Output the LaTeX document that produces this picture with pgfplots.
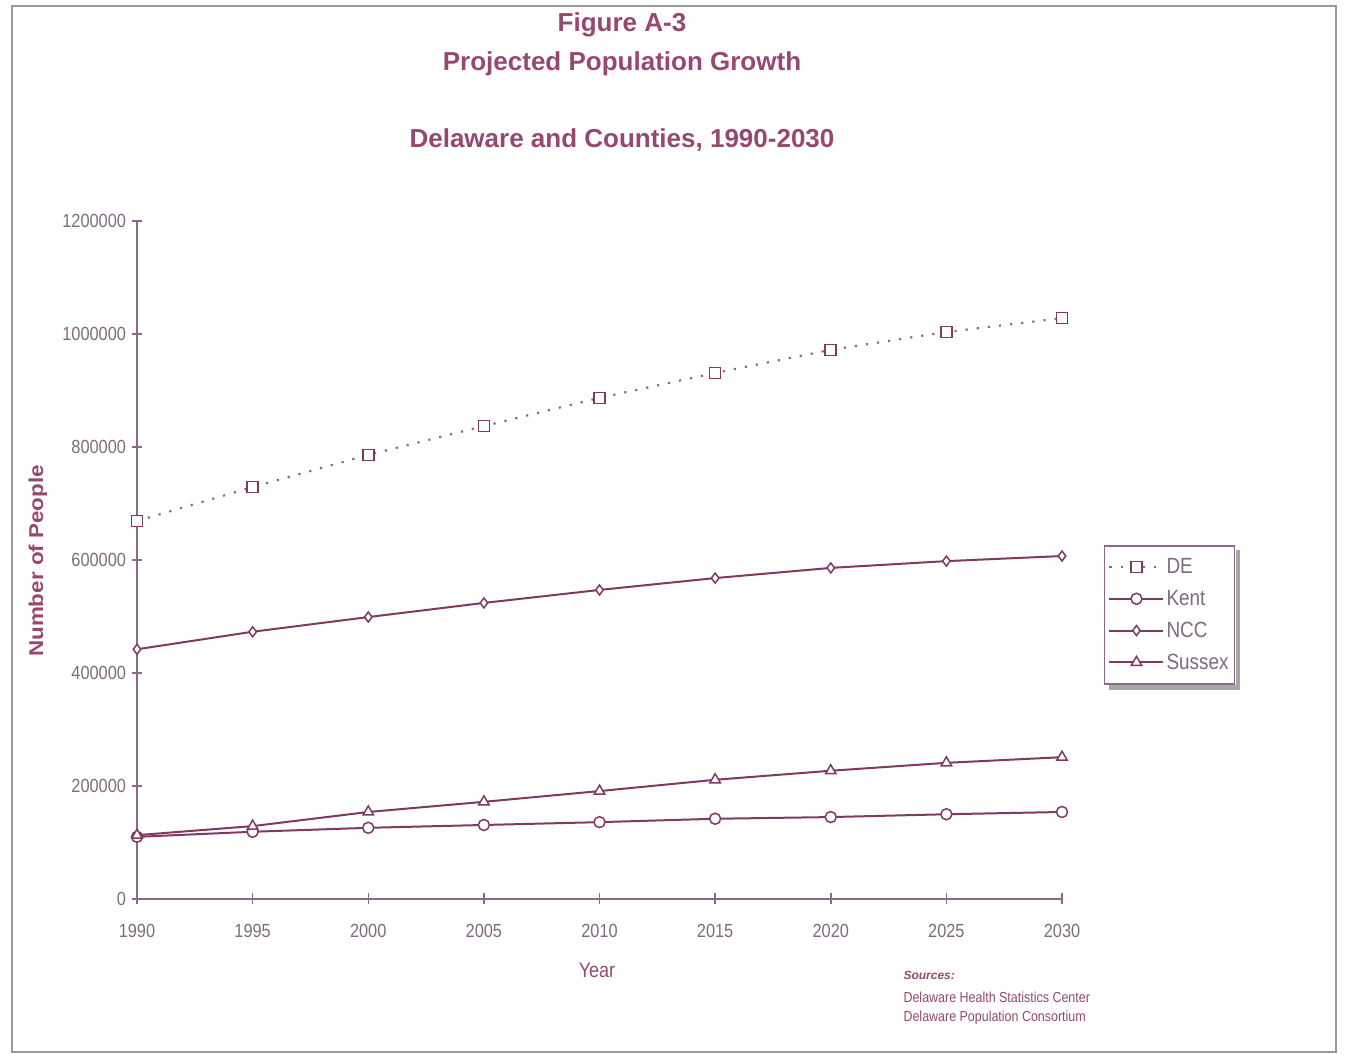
\documentclass[border=0pt]{standalone}
\usepackage{fontspec}
\setmainfont{Liberation Sans}
\newfontfamily\narrow[FakeStretch=0.86]{Liberation Sans}
\newfontfamily\wide[FakeStretch=1.12]{Liberation Sans}
\usepackage{pgfplots}
\pgfplotsset{compat=1.18}

\definecolor{titlec}{RGB}{150,72,112}
\definecolor{linec}{RGB}{128,58,98}
\definecolor{tickc}{RGB}{125,108,125}
\definecolor{axisc}{RGB}{140,105,135}
\definecolor{dotc}{RGB}{130,110,125}

\begin{document}
\begin{tikzpicture}[x=1pt,y=1pt]
\useasboundingbox (0,0) rectangle (1346,1054);
\draw[gray!80, line width=2.5pt] (12,2) rectangle (1336,1048);

\begin{axis}[
  at={(137pt,155pt)}, anchor=south west,
  scale only axis, width=925pt, height=678pt,
  xmin=1990, xmax=2030, ymin=0, ymax=1200000,
  scaled y ticks=false, scaled x ticks=false,
  axis x line=bottom, axis y line=left,
  axis line style={-, axisc, line width=1.6pt},
  tick align=center, major tick length=11pt,
  every tick/.style={axisc, line width=1.5pt},
  xtick={1990,1995,...,2030},
  xticklabels={1990,1995,2000,2005,2010,2015,2020,2025,2030},
  ytick={0,200000,400000,600000,800000,1000000,1200000},
  yticklabels={0,200000,400000,600000,800000,1000000,1200000},
  ticklabel style={font=\narrow\fontsize{19}{20}\selectfont, text=tickc},
  xticklabel style={yshift=-16pt},
  yticklabel style={xshift=-2pt},
  legend style={name=leg, at={(1.045,0.522)}, anchor=north west,
    draw=axisc, line width=1.5pt, fill=white,
    font=\narrow\fontsize{22}{23}\selectfont, text=tickc,
    row sep=11pt, inner xsep=4pt, inner ysep=11pt,
    legend cell align=left},
  legend image code/.code={
    \draw[mark repeat=2, mark phase=2, #1] plot coordinates {(0pt,0pt) (27pt,0pt) (54pt,0pt)};
  },
  every axis plot/.append style={line width=2pt},
]
\addplot[dotc, line width=2.2pt, dash pattern=on 2.2pt off 9pt, mark=square*, mark size=5.5pt, mark options={solid, fill=white, draw=linec, line width=1.6pt}] coordinates {
  (1990,669000) (1995,729000) (2000,786000) (2005,837000) (2010,887000)
  (2015,931000) (2020,972000) (2025,1003500) (2030,1028000)
};
\addlegendentry{DE}
\addplot[linec, mark=*, mark size=5.5pt, mark options={solid, fill=white, draw=linec, line width=1.5pt}] coordinates {
  (1990,110000) (1995,119000) (2000,126000) (2005,131000) (2010,136000)
  (2015,142000) (2020,145000) (2025,150000) (2030,154000)
};
\addlegendentry{Kent}
\addplot[linec, mark=diamond*, mark size=5pt, mark options={solid, fill=white, draw=linec, line width=1.5pt}] coordinates {
  (1990,442000) (1995,473000) (2000,499000) (2005,524000) (2010,547000)
  (2015,568000) (2020,586000) (2025,598000) (2030,607000)
};
\addlegendentry{NCC}
\addplot[linec, mark=triangle*, mark size=6pt, mark options={solid, fill=white, draw=linec, line width=1.5pt}] coordinates {
  (1990,113000) (1995,129000) (2000,154000) (2005,172000) (2010,191000)
  (2015,211000) (2020,227000) (2025,241000) (2030,251000)
};
\addlegendentry{Sussex}
\end{axis}

% legend shadow
\fill[gray!70] ([xshift=0.75pt,yshift=-5pt]leg.north east) rectangle ([xshift=5pt,yshift=-5pt]leg.south east);
\fill[gray!70] ([xshift=5pt,yshift=-0.75pt]leg.south west) rectangle ([xshift=5pt,yshift=-5pt]leg.south east);

\node[text=titlec, font=\bfseries\fontsize{26}{28}\selectfont] at (622,1029) {Figure A-3};
\node[text=titlec, font=\bfseries\fontsize{26}{28}\selectfont] at (622,990) {Projected Population Growth};
\node[text=titlec, font=\bfseries\fontsize{26}{28}\selectfont] at (622,914) {Delaware and Counties, 1990-2030};
\node[text=titlec, font=\narrow\fontsize{21}{22}\selectfont] at (597,84) {Year};
\node[text=titlec, font=\wide\bfseries\fontsize{20}{22}\selectfont, rotate=90] at (38,493) {Number of People};
\node[text=titlec, font=\bfseries\itshape\fontsize{12}{13}\selectfont, anchor=west] at (900,79) {Sources:};
\node[text=titlec, font=\narrow\fontsize{14.5}{15}\selectfont, anchor=west] at (900,57) {Delaware Health Statistics Center};
\node[text=titlec, font=\narrow\fontsize{14.5}{15}\selectfont, anchor=west] at (900,36) {Delaware Population Consortium};
\end{tikzpicture}
\end{document}
